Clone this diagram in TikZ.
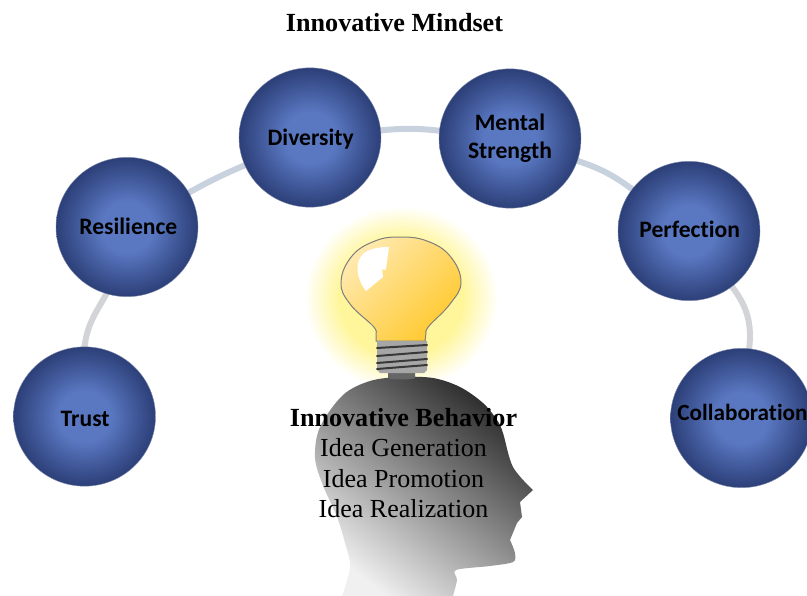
\documentclass[tikz,border=0pt]{standalone}
\usepackage{fontspec}
\setmainfont{Liberation Serif}
\newfontfamily\cbfont{Carlito}[Ligatures=NoCommon]
\usetikzlibrary{shapes.geometric,backgrounds}
\definecolor{ballin}{HTML}{5A78C2}
\definecolor{ballout}{HTML}{2C3F78}
\definecolor{glowc}{HTML}{FFF69C}
\definecolor{arcblue}{HTML}{C8D2DF}
\definecolor{arcgrey}{HTML}{D2D4D8}
\definecolor{bulba}{HTML}{FFE9AE}
\definecolor{bulbb}{HTML}{FFC92E}
\pgfdeclareradialshading{ballshade}{\pgfpoint{0bp}{0bp}}{color(0bp)=(ballin);color(9bp)=(ballin);color(25bp)=(ballout);color(50bp)=(ballout)}
\pgfdeclareradialshading{glowshade}{\pgfpoint{0bp}{0bp}}{color(0bp)=(glowc);color(16bp)=(glowc);color(25bp)=(white);color(50bp)=(white)}
\newcommand{\balltext}[3]{\makebox[0pt]{\hspace{#1}\raisebox{#2}[\height][\depth]{#3}}}
\tikzset{
  ball/.style={ellipse,inner sep=0pt,outer sep=0pt,minimum width=106.5pt,minimum height=104.5pt,
    shading=ballshade,draw=ballout!60!white,line width=0.3pt,font=\cbfont\bfseries\fontsize{17.7}{21}\selectfont,align=center,text=black},
  arcline/.style={line width=4.5pt,line cap=round},
  titletext/.style={font=\bfseries\fontsize{19.6}{20}\selectfont,inner sep=0pt},
  bodytext/.style={font=\fontsize{19.5}{20}\selectfont,inner sep=0pt}
}
\begin{document}
\begin{tikzpicture}[x=0.75pt,y=-0.75pt]
\useasboundingbox (0,0) rectangle (807,596);
% glow
\shade[shading=glowshade] (401,298) ellipse [x radius=97,y radius=92];
% head
\shade[top color=black!84,bottom color=black!6,shading angle=-38]
  plot[smooth,tension=0.55] coordinates {(342,596)(350,567)(345,543)(337,517)(322,483)(315,457)(320,427)(343,395)(370,381)(400,377)(433,378)(460,387)(483,403)(497,420)(503,433)(513,467)(533,490)}
  -- (520,502) -- (522,517) -- (517,523) -- (510,540)
  -- plot[smooth,tension=0.5] coordinates {(510,540)(515,553)(513,562)(490,566)(456,570)(457,580)(453,596)} -- cycle;
% cap
\fill[black!60] (388,373) -- (415,373) -- (415,378) arc[start angle=0,end angle=180,x radius=13.5,y radius=1.5] -- cycle;
% bulb
\filldraw[draw=black!50,line width=0.75pt,left color=bulba,right color=bulbb,shading angle=45]
  (376,341) -- plot[smooth,tension=0.7] coordinates {(376,333)(373,326)(350,304)(341,282)(352,256)(375,241)(400,237)(427,241)(450,256)(461,282)(450,304)(429,326)(426,333)}
  -- (425,341) -- cycle;
\fill[white] (389,247) -- (386,269) arc[start angle=40,end angle=200,radius=2.5] -- (383,277) -- (366,291)
  .. controls (356,278) and (354,262) .. (364,253) .. controls (371,248) and (380,247) .. (389,247) -- cycle;
% screw
\fill[black!35] (377,341) -- (427,341) -- (427,370) -- (424,373) -- (380,373) -- (377,370) -- cycle;
\draw[black!78,line width=1.5pt,line cap=round] (377,348) -- (427,345) (377,356) -- (427,352) (377,363) -- (427,359) (377,369) -- (427,365);
% circles
\node[ball] (trust) at (84.5,416.5) {\balltext{1pt}{-1.5pt}{Trust}};
\node[ball] (resil) at (127,227) {\balltext{2pt}{0.5pt}{Resilience}};
\node[ball] (divers) at (310,137.5) {\balltext{1pt}{-1pt}{Diversity}};
\node[ball] (mental) at (510,138.5) {\makebox[0pt]{Mental}\\\makebox[0pt]{Strength}};
\node[ball] (perf) at (689,231) {\balltext{1pt}{1.5pt}{Perfection}};
\node[ball] (collab) at (741.5,418) {\balltext{1.5pt}{4.5pt}{\fontsize{17.4}{21}\selectfont Collaboration}};
\begin{scope}[on background layer]
\draw[arcline,arcgrey] (trust.90) to[out=83,in=240] (resil.253);
\draw[arcline,arcblue] (resil) to[bend left=3] (divers);
\draw[arcline,arcblue] (divers) to[bend left=6] (mental);
\draw[arcline,arcblue] (mental) to[bend left=9] (perf);
\draw[arcline,arcgrey] (perf) to[bend left=22] (collab);
\end{scope}
% text
\node[titletext] (title) at (394.5,22.5) {Innovative Mindset};
\node[titletext] (behav) at (403.5,417.5) {Innovative Behavior};
\node[bodytext] (gen) at (403.5,447.5) {Idea Generation};
\node[bodytext] (prom) at (403.5,478.5) {Idea Promotion};
\node[bodytext] (real) at (403.5,508.5) {Idea Realization};
\end{tikzpicture}
\end{document}
